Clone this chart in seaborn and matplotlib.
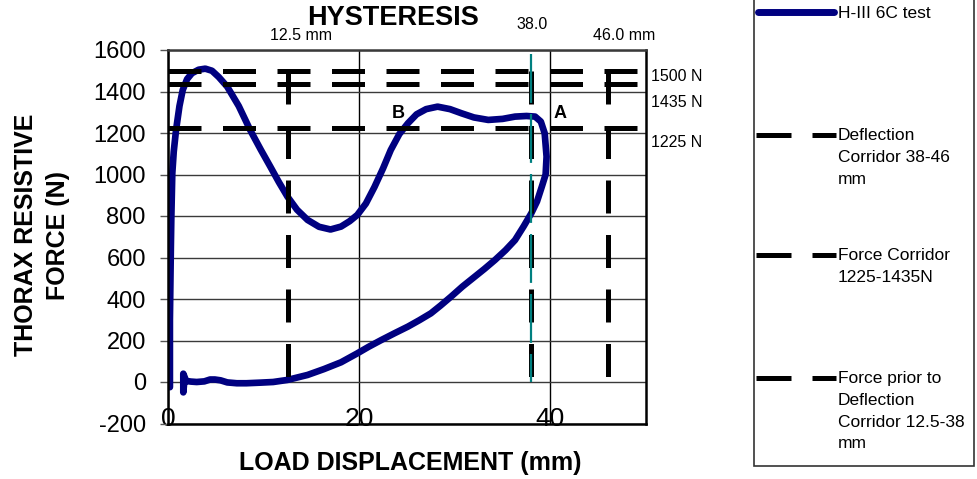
import matplotlib
matplotlib.use("Agg")
import matplotlib.pyplot as plt
from matplotlib.patches import Rectangle
import numpy as np
import pandas as pd
import seaborn as sns

# ---------------- data ----------------
disp_mm = [0.2, 0.2, 0.2, 0.25, 0.3, 0.35, 0.45, 0.6, 0.84, 1.2, 1.54, 2.0, 2.5, 3.2,
           3.9, 4.6, 5.3, 6.2, 7.4, 8.6, 9.7, 10.7, 11.6, 12.5, 13.5, 14.6, 15.8,
           17.0, 18.1, 19.0, 19.8, 20.7, 21.6, 22.5, 23.3, 24.2, 25.1, 26.0, 27.0,
           28.2, 29.5, 30.7, 32.0, 33.5, 35.0, 36.3, 37.5, 38.4, 39.0, 39.4, 39.6,
           39.5, 39.1, 38.6, 38.0, 37.2, 36.3, 35.3, 34.2, 33.1, 32.1, 30.8, 29.6,
           28.5, 27.5, 26.3, 25.1, 23.7, 22.3, 21.0, 19.8, 18.1, 16.3, 14.6, 12.5,
           11.0, 9.7, 8.2, 7.2, 6.2, 5.5, 4.9, 4.4, 3.8, 3.0, 2.4, 1.9, 1.6, 1.6,
           1.7, 1.9]
force_n = [-25, 100, 300, 476, 650, 797, 1006, 1110, 1214, 1330, 1407, 1460, 1488, 1505,
           1510, 1500, 1470, 1423, 1330, 1214, 1120, 1038, 963, 893, 830, 781, 748,
           735, 749, 775, 805, 860, 940, 1030, 1118, 1195, 1247, 1290, 1315,
           1327, 1315, 1295, 1275, 1263, 1268, 1279, 1282, 1279, 1255, 1199, 1086,
           1000, 941, 870, 813, 750, 684, 635, 588, 545, 508, 460, 411,
           368, 331, 298, 267, 235, 202, 170, 138, 95, 62, 34, 10,
           0, -3, -6, -6, -2, 8, 12, 12, 3, 0, 2, 5, 40, -50,
           0, 5]

force_levels = [1500, 1435, 1225]          # N, horizontal corridor lines
force_labels = ["1500 N", "1435 N", "1225 N"]
deflection_marks = [12.5, 38.0, 46.0]     # mm, vertical corridor lines
deflection_labels = ["12.5 mm", "38.0", "46.0 mm"]
corridor_x_span = [0, 50]
corridor_top = 1500
marker_38_top = 1580

legend_labels = ["H-III 6C test",
                 "Deflection\nCorridor 38-46\nmm",
                 "Force Corridor\n1225-1435N",
                 "Force prior to\nDeflection\nCorridor 12.5-38\nmm"]

NAVY = "#000080"
TEAL = "#008080"

sns.set_theme(style="white")
plt.rcParams["font.family"] = ["Liberation Sans", "DejaVu Sans"]
plt.rcParams["axes.unicode_minus"] = False
plt.rcParams["text.color"] = "black"
plt.rcParams["xtick.color"] = "black"
plt.rcParams["ytick.color"] = "black"

W, H = 977, 479
fig = plt.figure(figsize=(W / 100, H / 100), dpi=100)
ax = fig.add_axes([168 / W, 1 - 423.5 / H, 478 / W, 373.5 / H])

# grid
ax.set_xlim(0, 50)
ax.set_ylim(-200, 1600)
ax.set_xticks([0, 20, 40])
ax.set_yticks(np.arange(-200, 1601, 200))
ax.grid(True, axis="y", color="#3a3a3a", lw=1.0)
ax.grid(True, axis="x", color="#000000", lw=1.0)
ax.set_axisbelow(True)
for side, s in ax.spines.items():
    s.set_visible(True)
    s.set_color("#000000")
    s.set_linewidth(1.8)
ax.spines["top"].set_color("#3a3a3a")

ax.tick_params(axis="y", left=True, length=6, width=1, color="#555555",
               labelsize=17, pad=10, labelcolor="black")
ax.tick_params(axis="x", bottom=False, length=0, labelsize=19, pad=-12,
               labelcolor="black")

# test curve
df = pd.DataFrame({"disp": disp_mm, "force": force_n})
sns.lineplot(data=df, x="disp", y="force", sort=False, estimator=None,
             color=NAVY, lw=4.8, ax=ax, zorder=2.5)
ax.lines[-1].set_solid_capstyle("round")
ax.lines[-1].set_solid_joinstyle("round")

dash_kw = dict(color="black", lw=3.6, dashes=(6.6, 4.3), solid_capstyle="butt",
               dash_capstyle="butt", zorder=3)
for lvl in force_levels:
    ax.plot(corridor_x_span, [lvl, lvl], **dash_kw)
for xm in deflection_marks:
    ax.plot([xm, xm], [corridor_top, 0], **dash_kw)

# teal marker at 38 mm
ax.plot([deflection_marks[1], deflection_marks[1]], [marker_38_top, 0],
        color=TEAL, lw=1.6, dashes=(22, 5), zorder=5)

ax.set_xlabel("")
ax.set_ylabel("")

# annotations
ann_pos = [(13.9, 1668), (38.1, 1725), (47.7, 1668)]
for (xx, yy), t in zip(ann_pos, deflection_labels):
    ax.text(xx, yy, t, ha="center", va="center", fontsize=11.5, clip_on=False)
force_lab_y = [1470, 1349, 1152]
for yy, t in zip(force_lab_y, force_labels):
    ax.text(50.5, yy, t, ha="left", va="center", fontsize=11.5, clip_on=False)
ax.text(24.1, 1296, "B", ha="center", va="center", fontsize=13, fontweight="bold")
ax.text(41.0, 1296, "A", ha="center", va="center", fontsize=13, fontweight="bold")

# titles
fig.text(393 / W, 1 - 18 / H, "HYSTERESIS", ha="center", va="center",
         fontsize=19.5, fontweight="bold")
fig.text(410 / W, 1 - 463 / H, "LOAD DISPLACEMENT (mm)", ha="center", va="center",
         fontsize=18, fontweight="bold")
fig.text(42 / W, 1 - 235 / H, "THORAX RESISTIVE\nFORCE (N)", ha="center",
         va="center", rotation=90, fontsize=18, fontweight="bold",
         linespacing=1.45, multialignment="center")

# legend (drawn in pixel coordinates)
lax = fig.add_axes([0, 0, 1, 1], zorder=10)
lax.set_xlim(0, W)
lax.set_ylim(H, 0)
lax.axis("off")
lax.patch.set_alpha(0)
lax.add_patch(Rectangle((754, -5), 220, 471, fill=False, ec="#333333", lw=1.2))
ys = [12, 135, 255, 378]
lax.plot([758, 834], [ys[0], ys[0]], color=NAVY, lw=5, solid_capstyle="round")
for y in ys[1:]:
    lax.plot([756, 791], [y, y], color="black", lw=3.6, solid_capstyle="butt")
    lax.plot([812, 836], [y, y], color="black", lw=3.6, solid_capstyle="butt")
for y, t in zip(ys, legend_labels):
    lax.text(838, y - 6.5, t, ha="left", va="top", fontsize=12.5, linespacing=1.55)

fig.savefig("out.png", dpi=100)
